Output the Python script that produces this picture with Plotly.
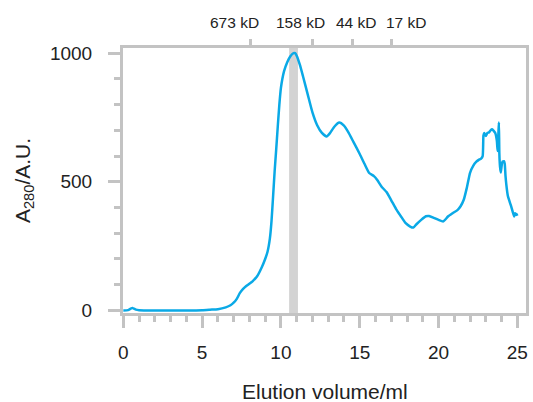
import plotly.graph_objects as go

# Elution volume (ml) and absorbance A280 (A.U.)
volume = [0, 0.3, 0.5, 0.6, 0.8, 1.0, 2, 3, 4, 5, 5.5, 6.0, 6.5, 6.8, 7.0, 7.2, 7.4, 7.6, 7.8,
          8.0, 8.2, 8.5, 8.8, 9.0, 9.15, 9.3, 9.4, 9.5, 9.6, 9.7, 9.8, 9.9, 10.0, 10.2, 10.4,
          10.6, 10.8, 10.9, 11.0, 11.2, 11.4, 11.7, 12.0, 12.3, 12.6, 12.9, 13.1, 13.4, 13.7,
          14.0, 14.3, 14.6, 15.0, 15.3, 15.6, 15.9, 16.1, 16.4, 16.7, 17.0, 17.3, 17.6, 17.9,
          18.2, 18.4, 18.6, 18.9, 19.2, 19.4, 19.7, 20.0, 20.3, 20.6, 20.9, 21.2, 21.4, 21.6,
          21.8, 22.0, 22.2, 22.4, 22.55, 22.7, 22.8, 22.85, 22.9, 23.0, 23.1, 23.2, 23.3, 23.4,
          23.5, 23.6, 23.7, 23.75, 23.8, 23.83, 23.86, 23.9, 23.95, 24.0, 24.05, 24.15, 24.2,
          24.25, 24.3, 24.4, 24.5, 24.6, 24.7, 24.8, 24.85, 24.9, 24.95, 25.0]
absorbance = [0, 1, 8, 9, 3, 1, 0, 0, 0, 1, 3, 5, 12, 20, 30, 45, 68, 84, 95,
              104, 113, 134, 170, 200, 228, 280, 345, 440, 540, 625, 715, 800, 865, 930, 965,
              988, 1000, 1000, 990, 955, 910, 840, 770, 720, 690, 676, 688, 715, 730,
              718, 690, 655, 608, 570, 534, 522, 508, 480, 460, 428, 395, 367, 340,
              326, 322, 335, 352, 366, 367, 360, 352, 346, 365, 378, 390, 405, 430,
              478, 535, 562, 578, 585, 590, 600, 680, 690, 678, 690, 692, 700, 704,
              698, 690, 660, 620, 690, 730, 610, 560, 536, 560, 578, 580, 570,
              523, 490, 445, 425, 406, 385, 365, 378, 372, 375, 368]

# Molecular weight markers (top axis)
marker_volumes = [8.08, 12.0, 14.53, 17.0]
marker_labels = ["673 kD", "158 kD", "44 kD", "17 kD"]
marker_label_pos = [7.06, 11.25, 14.8, 17.98]

# Highlighted fraction
band = [10.52, 11.08]

AX = "#c3c3c3"
TXT = "#222222"
FONT = "Liberation Sans, Arial, sans-serif"

fig = go.Figure()
fig.add_trace(go.Scatter(x=volume, y=absorbance, mode="lines",
                         line=dict(color="#0aa9e6", width=2.5, shape="spline", smoothing=0.5),
                         showlegend=False, hoverinfo="skip"))
fig.add_trace(go.Scatter(x=marker_volumes, y=[None] * len(marker_volumes), xaxis="x2",
                         mode="lines", showlegend=False, hoverinfo="skip"))

fig.add_shape(type="rect", xref="x", yref="paper", x0=band[0], x1=band[1], y0=0, y1=1,
              fillcolor="#d3d3d3", line=dict(width=0), layer="below")

for xv, lab in zip(marker_label_pos, marker_labels):
    fig.add_annotation(x=xv, xref="x", y=1.095, yref="paper", text=lab, showarrow=False,
                       font=dict(size=15.5, color=TXT, family=FONT), yanchor="middle")

# x-axis title
fig.add_annotation(x=0.5, xref="paper", y=-0.296, yref="paper", text="Elution volume/ml",
                   showarrow=False, yanchor="middle",
                   font=dict(size=21, color=TXT, family=FONT))

xr = [-0.02, 25.55]
fig.update_layout(
    width=533, height=402,
    margin=dict(l=123, r=7, t=48, b=88.5),
    paper_bgcolor="white", plot_bgcolor="white",
    font=dict(family=FONT, color=TXT),
    xaxis=dict(range=xr, showgrid=False, zeroline=False, showline=True, linecolor=AX,
               linewidth=3, mirror=True, ticks="outside", ticklen=12, tickwidth=3,
               tickcolor=AX, tickvals=[0, 5, 10, 15, 20, 25], automargin=False,
               tickfont=dict(size=19, color=TXT), ticklabelstandoff=8,
               minor=dict(dtick=1, ticks="outside", ticklen=6, tickwidth=3, tickcolor=AX)),
    xaxis2=dict(range=xr, overlaying="x", side="top", showgrid=False, zeroline=False,
                showline=False, ticks="outside", ticklen=8, tickwidth=3, tickcolor=AX,
                tickvals=marker_volumes, showticklabels=False, automargin=False),
    yaxis=dict(range=[-10, 1020], showgrid=False, zeroline=False, showline=True,
               linecolor=AX, linewidth=3, mirror=True, ticks="outside", ticklen=12,
               tickwidth=3, tickcolor=AX, tickvals=[0, 500, 1000], automargin=False,
               tickfont=dict(size=19, color=TXT), ticklabelstandoff=12,
               minor=dict(dtick=100, ticks="outside", ticklen=6, tickwidth=3, tickcolor=AX),
               title=dict(text="A<sub>280</sub>/A.U.", font=dict(size=21, color=TXT), standoff=14)),
)

fig.write_html("out.html")
